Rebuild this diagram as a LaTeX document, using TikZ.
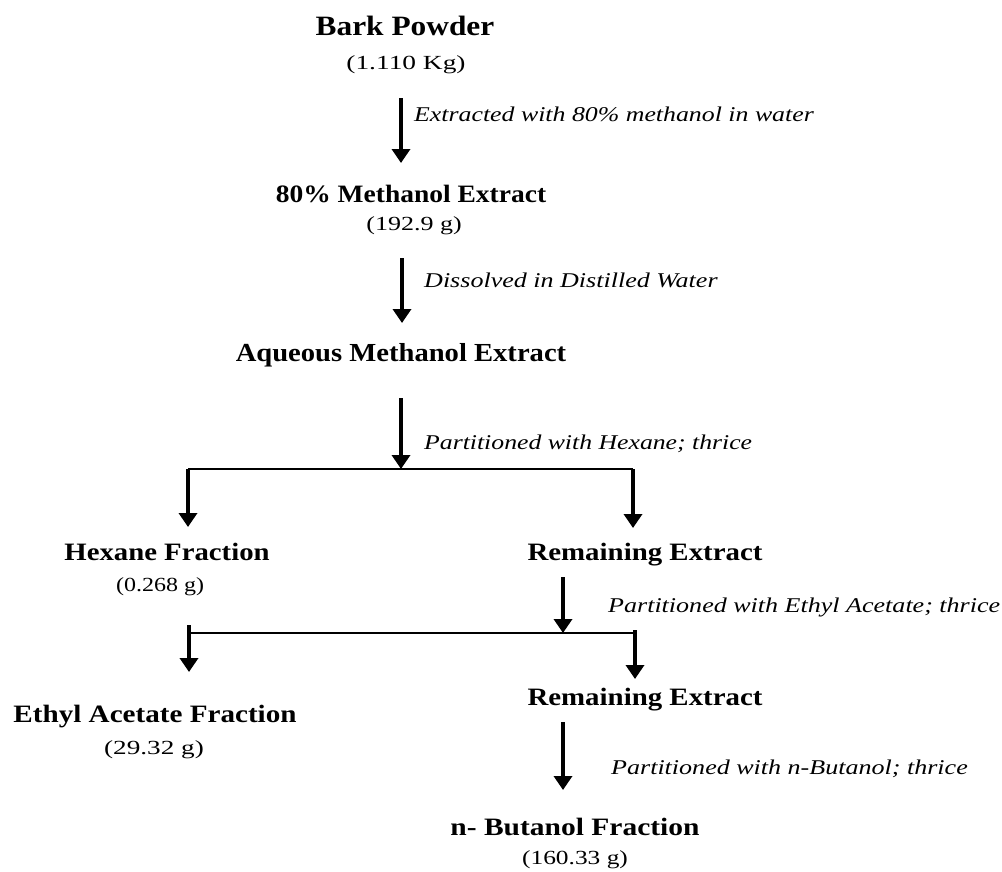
\documentclass[tikz,border=0pt]{standalone}
\usepackage{fontspec}
\setmainfont{Liberation Serif}
\usetikzlibrary{arrows.meta}
\newcommand{\hsc}[2]{\scalebox{#1}[1]{#2}}
\begin{document}
\begin{tikzpicture}[x=1pt,y=-1pt,
  title/.style={font=\fontsize{25}{27}\selectfont\bfseries, inner sep=0pt, anchor=base},
  value/.style={font=\fontsize{20}{22}\selectfont, inner sep=0pt, anchor=base},
  note/.style={font=\fontsize{21}{23}\selectfont\itshape, inner sep=0pt, anchor=base west},
  arr/.style={line width=4pt, -{Triangle[width=18pt,length=14pt]}},
  bar/.style={line width=2pt},
]
\useasboundingbox (0,0) rectangle (1002,871);

% nodes
\node[title] (bark)  at (405,35)  {\hsc{1.12}{\fontsize{28}{30}\selectfont Bark Powder}};
\node[value] (barkv) at (406,69)  {\hsc{1.37}{(1.110 Kg)}};
\node[title] (meth)  at (411,202) {\hsc{1.10}{80\% Methanol Extract}};
\node[value] (methv) at (414,230) {\hsc{1.30}{(192.9 g)}};
\node[title] (aq)    at (401,361) {\hsc{1.10}{\fontsize{26}{28}\selectfont Aqueous Methanol Extract}};
\node[title] (hex)   at (167,560) {\hsc{1.15}{Hexane Fraction}};
\node[value] (hexv)  at (160,591) {\hsc{1.20}{(0.268 g)}};
\node[title] (rem1)  at (645,560) {\hsc{1.155}{Remaining Extract}};
\node[title] (eth)   at (155,722) {\hsc{1.165}{Ethyl Acetate Fraction}};
\node[value] (ethv)  at (154,754) {\hsc{1.36}{(29.32 g)}};
\node[title] (rem2)  at (645,705) {\hsc{1.155}{Remaining Extract}};
\node[title] (but)   at (575,835) {\hsc{1.18}{n- Butanol Fraction}};
\node[value] (butv)  at (575,864) {\hsc{1.27}{(160.33 g)}};

% notes
\node[note] (n1) at (414,121) {\hsc{1.23}{Extracted with 80\% methanol in water}};
\node[note] (n2) at (424,287) {\hsc{1.24}{Dissolved in Distilled Water}};
\node[note] (n3) at (424,449) {\hsc{1.225}{Partitioned with Hexane; thrice}};
\node[note] (n4) at (608,612) {\hsc{1.24}{Partitioned with Ethyl Acetate; thrice}};
\node[note] (n5) at (611,774) {\hsc{1.24}{Partitioned with n-Butanol; thrice}};

% connector points
\coordinate (a1s) at (401,98);  \coordinate (a1e) at (401,163);
\coordinate (a2s) at (402,258); \coordinate (a2e) at (402,323);
\coordinate (a3s) at (401,398); \coordinate (j1)  at (401,469);
\coordinate (j1l) at (188,469); \coordinate (j1r) at (633,469);
\coordinate (hexT) at (188,527); \coordinate (rem1T) at (633,528);
\coordinate (a4s) at (563,577); \coordinate (j2)  at (563,633);
\coordinate (j2l) at (189,633); \coordinate (j2r) at (635,633);
\coordinate (j2lu) at (189,625); \coordinate (j2ru) at (635,630);
\coordinate (ethT) at (189,672); \coordinate (rem2T) at (635,679);
\coordinate (a5s) at (563,722); \coordinate (a5e) at (563,790);

% connectors
\draw[arr] (a1s) -- (a1e);
\draw[arr] (a2s) -- (a2e);
\draw[bar] (j1l) -- (j1r);
\draw[arr] (a3s) -- (j1);
\draw[arr] (j1l) -- (hexT);
\draw[arr] (j1r) -- (rem1T);
\draw[bar] (j2l) -- (j2r);
\draw[arr] (a4s) -- (j2);
\draw[arr] (j2lu) -- (ethT);
\draw[arr] (j2ru) -- (rem2T);
\draw[arr] (a5s) -- (a5e);
\end{tikzpicture}
\end{document}
